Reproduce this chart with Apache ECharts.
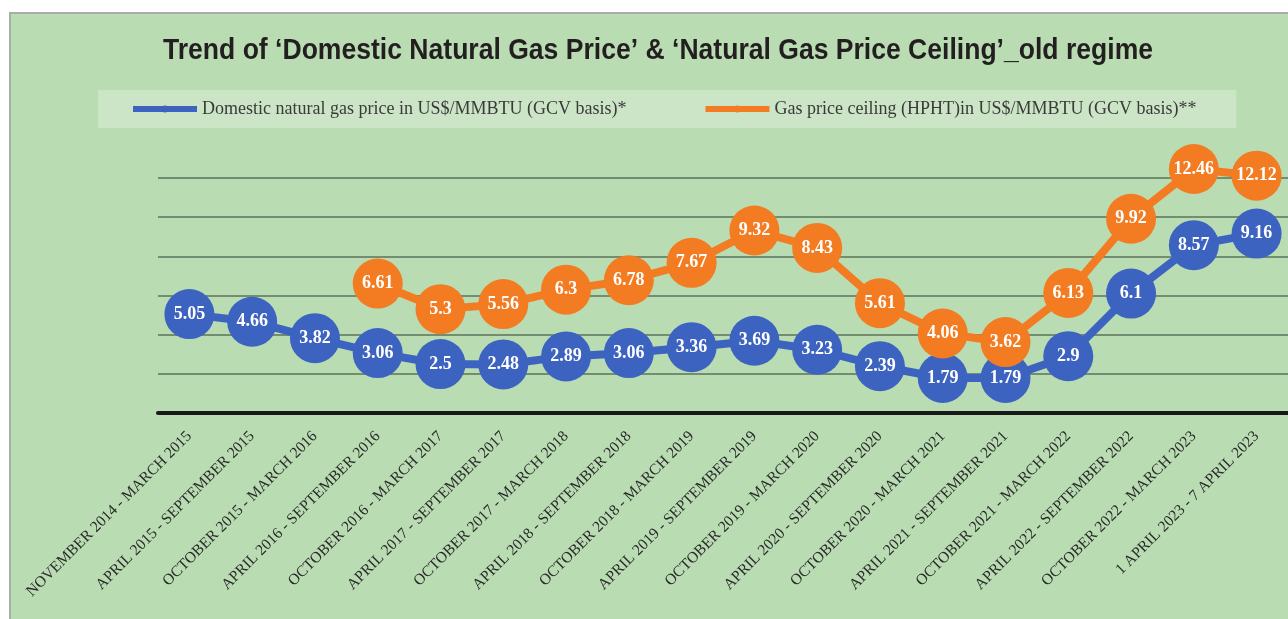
<!DOCTYPE html>
<html>
<head>
<meta charset="utf-8">
<script src="https://cdn.jsdelivr.net/npm/echarts@6/dist/echarts.min.js"></script>
<style>
  html, body { margin: 0; padding: 0; background: #fff; }
  #chart { width: 1288px; height: 619px; }
</style>
</head>
<body>
<div id="chart"></div>
<script>
// 时间段
var periods = [
    'NOVEMBER 2014 - MARCH 2015',
    'APRIL 2015 - SEPTEMBER 2015',
    'OCTOBER 2015 - MARCH 2016',
    'APRIL 2016 - SEPTEMBER 2016',
    'OCTOBER 2016 - MARCH 2017',
    'APRIL 2017 - SEPTEMBER 2017',
    'OCTOBER 2017 - MARCH 2018',
    'APRIL 2018 - SEPTEMBER 2018',
    'OCTOBER 2018 - MARCH 2019',
    'APRIL 2019 - SEPTEMBER 2019',
    'OCTOBER 2019 - MARCH 2020',
    'APRIL 2020 - SEPTEMBER 2020',
    'OCTOBER 2020 - MARCH 2021',
    'APRIL 2021 - SEPTEMBER 2021',
    'OCTOBER 2021 - MARCH 2022',
    'APRIL 2022 - SEPTEMBER 2022',
    'OCTOBER 2022 - MARCH 2023',
    '1 APRIL 2023 - 7 APRIL 2023'
];
var domesticPrice = [5.05, 4.66, 3.82, 3.06, 2.5, 2.48, 2.89, 3.06, 3.36, 3.69, 3.23, 2.39, 1.79, 1.79, 2.9, 6.1, 8.57, 9.16];
var priceCeiling = [null, null, null, 6.61, 5.3, 5.56, 6.3, 6.78, 7.67, 9.32, 8.43, 5.61, 4.06, 3.62, 6.13, 9.92, 12.46, 12.12];
var seriesNames = [
    'Domestic natural gas price in US$/MMBTU (GCV basis)*',
    'Gas price ceiling (HPHT)in US$/MMBTU (GCV basis)**'
];
var titleText = 'Trend of ‘Domestic Natural Gas Price’ & ‘Natural Gas Price Ceiling’_old regime';

var BLUE = '#3d63c1';
var ORANGE = '#f37c22';
var serif = '"Liberation Serif", "DejaVu Serif", serif';

function makeSeries(name, data, color) {
    return {
        type: 'line',
        name: name,
        data: data,
        clip: false,
        symbol: 'circle',
        symbolSize: 50,
        lineStyle: { color: color, width: 8 },
        itemStyle: { color: color },
        label: {
            show: true,
            position: 'inside',
            color: '#fff',
            fontFamily: serif,
            fontWeight: 'bold',
            fontSize: 18
        }
    };
}

var chart = echarts.init(document.getElementById('chart'));
chart.setOption({
    animation: false,
    backgroundColor: '#fff',
    graphic: [{
        type: 'rect',
        z: -10,
        shape: { x: 10, y: 13, width: 1290, height: 620 },
        style: { fill: '#b9dcb3', stroke: '#a9aca9', lineWidth: 2 }
    }, {
        // 窄体标题
        type: 'text',
        x: 658,
        y: 51,
        scaleX: 0.885,
        style: {
            text: titleText,
            x: 0,
            y: 0,
            align: 'center',
            verticalAlign: 'middle',
            fontFamily: '"Liberation Sans", Arial, sans-serif',
            fontWeight: 'bold',
            fontSize: 30,
            fill: '#231f20'
        }
    }],
    legend: {
        left: 98,
        top: 90,
        padding: [10, 40, 10, 32],
        backgroundColor: '#cce5c6',
        itemWidth: 64,
        itemHeight: 9,
        itemGap: 76,
        lineStyle: { width: 6 },
        textStyle: { fontFamily: serif, fontSize: 18, color: '#3a3a3a' },
        data: seriesNames
    },
    grid: { left: 158, right: -17, top: 178, bottom: 206 },
    xAxis: {
        type: 'category',
        data: periods,
        boundaryGap: true,
        axisLine: { lineStyle: { color: '#1a1a1a', width: 4 } },
        axisTick: { show: false },
        axisLabel: {
            interval: 0,
            rotate: 45,
            margin: 21,
            fontFamily: serif,
            fontSize: 15.5,
            color: '#2a2a2a'
        }
    },
    yAxis: {
        type: 'value',
        min: 0,
        max: 12,
        interval: 2,
        axisLine: { show: false },
        axisTick: { show: false },
        axisLabel: { show: false },
        splitLine: { lineStyle: { color: '#728d6f', width: 2 } }
    },
    series: [
        makeSeries(seriesNames[0], domesticPrice, BLUE),
        makeSeries(seriesNames[1], priceCeiling, ORANGE)
    ]
});
</script>
</body>
</html>
